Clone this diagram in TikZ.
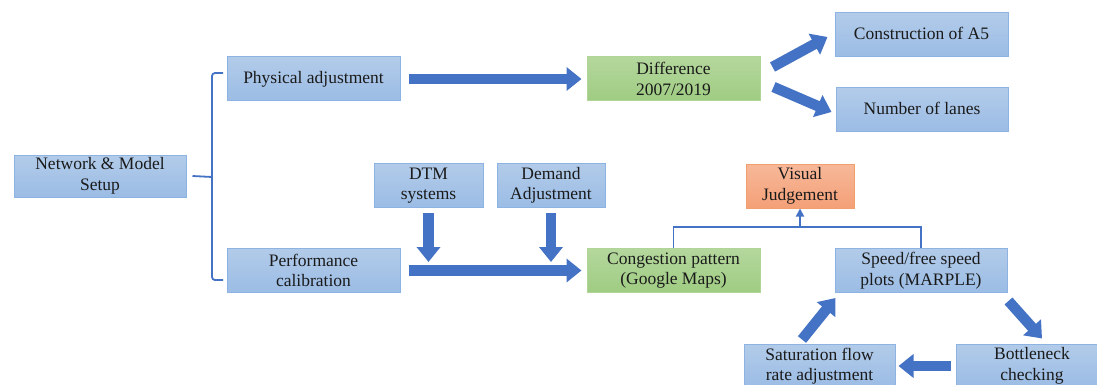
\documentclass[tikz,border=0pt]{standalone}
\usepackage{fontspec}
\setmainfont{Liberation Serif}
\usetikzlibrary{arrows.meta,calc}

\definecolor{bluetop}{HTML}{B2CBE9}
\definecolor{bluebot}{HTML}{9BBCE5}
\definecolor{blueline}{HTML}{8DB3E2}
\definecolor{greentop}{HTML}{B4D79D}
\definecolor{greenbot}{HTML}{9FCC82}
\definecolor{greenline}{HTML}{B0D596}
\definecolor{orangetop}{HTML}{F7B899}
\definecolor{orangebot}{HTML}{F4A077}
\definecolor{orangeline}{HTML}{F29F70}
\definecolor{arrowblue}{HTML}{4472C4}
\definecolor{ink}{HTML}{1A1A1A}

\tikzset{
  box/.style={rectangle, draw=blueline, line width=1pt, top color=bluetop, bottom color=bluebot,
    minimum height=44pt, inner sep=0pt, align=center, text=ink,
    font=\fontsize{17.5}{20.5}\selectfont},
  greenbox/.style={box, draw=greenline, top color=greentop, bottom color=greenbot},
  orangebox/.style={box, draw=orangeline, top color=orangetop, bottom color=orangebot},
  blockarrow/.style={draw=arrowblue, line width=10.5pt, -{Triangle[length=15pt,width=23pt]}},
  thinline/.style={draw=arrowblue, line width=1.8pt},
}

\begin{document}
\begin{tikzpicture}[x=1pt,y=-1pt]
\useasboundingbox (0,0) rectangle (1097,385);

% boxes
\node[box, minimum width=172pt, minimum height=42pt] (net) at (100,176) {Network \& Model\\Setup};
\node[box, minimum width=173pt] (phys) at (313.5,79) {\strut Physical adjustment};
\node[box, minimum width=173pt] (perf) at (313.5,270.5) {Performance\\calibration};
\node[greenbox, minimum width=173pt] (diff) at (673.5,79) {Difference\\2007/2019};
\node[box, minimum width=173pt] (cons) at (921.5,35) {\strut Construction of A5};
\node[box, minimum width=172pt] (lanes) at (922,110) {\strut Number of lanes};
\node[box, minimum width=109pt] (dtm) at (428.5,185.5) {DTM\\systems};
\node[box, minimum width=108pt] (dem) at (551,185.5) {Demand\\Adjustment};
\node[greenbox, minimum width=173pt] (cong) at (673.5,270.5) {Congestion pattern\\(Google Maps)};
\node[orangebox, minimum width=108pt] (vis) at (800,186) {Visual\\Judgement};
\node[box, minimum width=172pt] (speed) at (921,270.5) {Speed/free speed\\plots (MARPLE)};
\node[box, minimum width=151pt] (sat) at (819.5,366) {Saturation flow\\rate adjustment};
\node[box, minimum width=152pt] (bott) at (1032,366) {Bottleneck\\checking};

% bracket from the setup box to its two branches
\coordinate (brtop) at (223,73);
\coordinate (brbot) at (223,280);
\coordinate (brmid) at (212,177);
\draw[thinline, rounded corners=3pt] (brtop) -- (212,73) -- (212,280) -- (brbot);
\draw[thinline] ([xshift=6pt]net.east) -- (brmid);

% main block arrows
\draw[blockarrow] ([xshift=8pt]phys.east) -- ([xshift=-5pt]diff.west);
\draw[blockarrow] ([xshift=8pt]perf.east) -- ([xshift=-5pt]cong.west);
\draw[blockarrow] ([yshift=-5pt]dtm.south) -- ([yshift=-54pt]dtm.south);
\draw[blockarrow] ([yshift=-5pt]dem.south) -- ([yshift=-54pt]dem.south);

% branches of the difference box
\draw[blockarrow] ([shift={(12,-12)}]diff.east) -- ([shift={(-7,2)}]cons.west);
\draw[blockarrow] ([shift={(13,8)}]diff.east) -- ([shift={(-4,2)}]lanes.west);

% calibration loop
\draw[blockarrow] ([shift={(-17.5,-4)}]sat.north) -- ([shift={(1,5)}]speed.south west);
\draw[blockarrow] ([shift={(1,8)}]speed.south east) -- ([shift={(10,-5)}]bott.north);
\draw[blockarrow] ([xshift=-5pt]bott.west) -- ([xshift=3pt]sat.east);

% both outputs feed the visual judgement
\path (cong.north) ++(0,-21) coordinate (bar);
\draw[thinline] (cong.north) -- (bar) -| (speed.north);
\draw[thinline, -{Triangle[length=8pt,width=8pt]}] (vis.south |- bar) -- (vis.south);
\end{tikzpicture}
\end{document}
